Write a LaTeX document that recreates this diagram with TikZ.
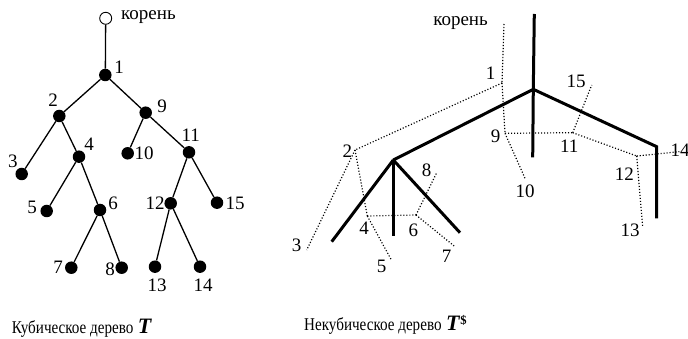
\documentclass[tikz,border=0pt]{standalone}
\usepackage{fontspec}
\setmainfont{Liberation Serif}
\usetikzlibrary{positioning}
\tikzset{
  leaf/.style={circle, fill=black, inner sep=0pt, minimum size=12.5pt},
  rootnode/.style={circle, draw=black, fill=white, inner sep=0pt, minimum size=12pt, line width=0.9pt},
  treeedge/.style={line width=1.3pt},
  thickedge/.style={line width=3pt},
  dualedge/.style={line width=1.2pt, dash pattern=on 1.1pt off 1.9pt},
  numlabel/.style={inner sep=0pt, font=\fontsize{19}{19}\selectfont},
  caption/.style={inner sep=0pt, anchor=west, font=\fontsize{18}{18}\selectfont},
}
\newcommand{\captxt}[1]{\scalebox{0.84}[1]{#1}}
\newcommand{\bigT}{\textbf{\textit{\fontsize{22}{22}\selectfont T}}}

\begin{document}
\begin{tikzpicture}[x=1pt, y=-1pt]
  \useasboundingbox (0,0) rectangle (688,339);

  % === Left: cubic tree T ===
  \node[rootnode] (r) at (105.7,18.3) {};
  \foreach \n/\x/\y in {1/105.3/75, 2/59.3/116, 9/145.7/112.7, 3/21.7/174,
      4/79/156.7, 10/127.7/153.3, 11/189/152.3, 5/46.7/211, 6/100/210,
      12/170.7/203.3, 15/217/202.7, 7/71.3/267.7, 8/121.7/267.7,
      13/155/266.7, 14/200/266.7} {
    \node[leaf] (v\n) at (\x,\y) {};
  }

  % edges of T
  \draw[treeedge] (r) -- (v1);
  \foreach \a/\b in {1/2, 1/9, 2/3, 2/4, 4/5, 4/6, 6/7, 6/8,
      9/10, 9/11, 11/12, 11/15, 12/13, 12/14} {
    \draw[treeedge] (v\a) -- (v\b);
  }

  % labels of T
  \node[numlabel, anchor=west] (rlab) at (121,17) {корень};
  \foreach \t/\x/\y in {1/119/67, 2/53/100, 9/162/106, 3/13/161, 4/89/144,
      10/144/153, 11/190.7/135, 5/32/207, 6/113/203, 12/155/203,
      15/235/203, 7/58/267, 8/110/269, 13/157/285, 14/203/285} {
    \node[numlabel] at (\x,\y) {\t};
  }

  % === Right: non-cubic tree T$ (thick) ===
  \coordinate (t0) at (534.3,14);
  \coordinate (h1) at (533.3,89.3);
  \coordinate (t9) at (532.7,157.3);
  \coordinate (h2) at (393.3,160);
  \coordinate (c14) at (656.7,146.7);
  \coordinate (t14) at (656.7,218.3);
  \coordinate (t3) at (331.7,241.7);
  \coordinate (t5) at (393.3,236);
  \coordinate (t7) at (460,232.7);

  \draw[thickedge] (t0) -- (h1) -- (t9);
  \draw[thickedge] (h1) -- (h2);
  \draw[thickedge] (h1) -- (c14) -- (t14);
  \foreach \e in {t3,t5,t7} {
    \draw[thickedge] (h2) -- (\e);
  }

  % dotted copy of T laid over it
  \coordinate (dr) at (504,24);
  \foreach \n/\x/\y in {1/502/83, 2/355/150, 9/505/133.3, 3/306.7/250,
      4/367.3/216, 10/525/178.3, 11/572.7/132.7, 5/391/259.3, 6/416/215,
      12/636.7/156, 15/591.7/85, 7/455/246.7, 8/436.7/172.7,
      13/642.7/226.7, 14/679.3/151.7} {
    \coordinate (d\n) at (\x,\y);
  }
  \draw[dualedge] (dr) -- (d1);
  \foreach \a/\b in {1/2, 1/9, 2/3, 2/4, 4/5, 4/6, 6/7, 6/8,
      9/10, 9/11, 11/12, 11/15, 12/13, 12/14} {
    \draw[dualedge] (d\a) -- (d\b);
  }

  % labels of T$
  \node[numlabel, anchor=east] (drlab) at (488,23) {корень};
  \foreach \t/\x/\y in {1/490.7/73.3, 15/576/81.7, 9/495.7/136.7,
      11/569.3/146.7, 14/680/150, 2/347.3/151.7, 8/426.7/170,
      10/525/191.7, 12/624.3/174, 4/364/228.3, 6/413.3/230,
      3/296.7/245, 13/630/230, 5/381.7/266.7, 7/446.7/256.7} {
    \node[numlabel] at (\x,\y) {\t};
  }

  % === Captions ===
  \node[caption] (capl) at (11.7,328) {\captxt{Кубическое дерево} \bigT};
  \node[caption] (capr) at (304,325) {\captxt{Некубическое дерево} \bigT\textsuperscript{\textbf{\$}}};
\end{tikzpicture}
\end{document}
